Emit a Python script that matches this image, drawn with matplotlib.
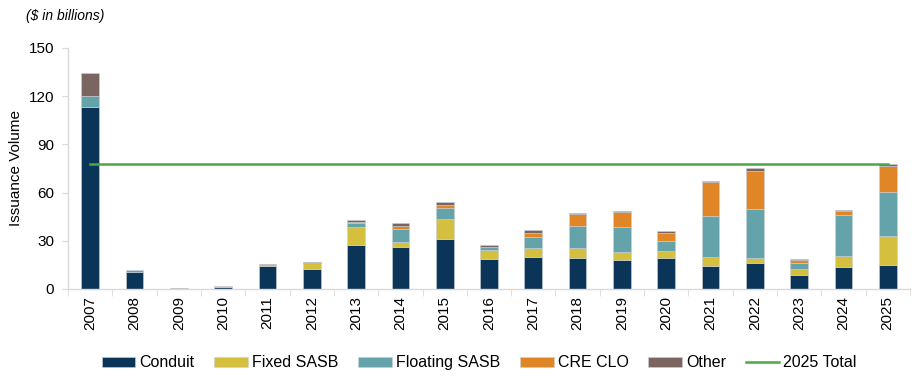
import matplotlib
matplotlib.use("Agg")
import matplotlib.pyplot as plt
import numpy as np

years = ["2007","2008","2009","2010","2011","2012","2013","2014","2015","2016",
         "2017","2018","2019","2020","2021","2022","2023","2024","2025"]
conduit  = [113.5, 10.4, 0.0, 1.0, 14.5, 12.2, 27.4, 26.3, 31.1, 18.9, 20.1, 19.1, 17.8, 19.1, 14.5, 16.2, 8.9, 13.9, 14.9]
fixed    = [0.0, 0.0, 0.0, 0.6, 0.6, 3.8, 11.2, 3.0, 12.7, 5.4, 5.6, 6.4, 5.2, 4.8, 5.6, 3.3, 3.5, 6.6, 18.1]
floating = [6.5, 1.6, 0.0, 0.0, 0.0, 0.0, 2.7, 8.3, 6.8, 1.6, 6.7, 13.9, 15.4, 5.8, 25.5, 30.1, 3.6, 25.4, 27.4]
cre_clo  = [0.0, 0.0, 0.0, 0.0, 0.0, 0.0, 0.6, 1.6, 1.5, 0.4, 2.7, 7.1, 9.5, 5.2, 20.8, 24.1, 2.3, 2.9, 16.4]
other    = [14.5, 0.0, 0.8, 0.4, 0.5, 0.8, 1.3, 2.1, 1.8, 1.3, 1.4, 0.6, 0.9, 1.2, 0.6, 1.6, 0.6, 0.4, 1.0]
total_2025 = 77.8

series = [("Conduit", conduit, "#0B3558"),
          ("Fixed SASB", fixed, "#D4BF3E"),
          ("Floating SASB", floating, "#65A3AB"),
          ("CRE CLO", cre_clo, "#E08626"),
          ("Other", other, "#7A6560")]

plt.rcParams['font.family'] = ['Liberation Sans', 'DejaVu Sans']

fig = plt.figure(figsize=(9.2, 3.82), dpi=100)
ax = fig.add_axes([0.074, 0.2435, 0.915, 0.631])

x = np.arange(len(years))
bottom = np.zeros(len(years))
handles = []
for name, vals, col in series:
    v = np.array(vals)
    b = ax.bar(x, v, width=0.40, bottom=bottom, color=col, edgecolor='#c9d1d9',
               linewidth=0.4, label=name, zorder=2)
    handles.append(b)
    bottom += v

ln, = ax.plot([0, len(years) - 1], [total_2025, total_2025], color="#4EA843",
              linewidth=1.8, label="2025 Total", zorder=3)

ax.set_xlim(-0.5, len(years) - 0.5)
ax.set_ylim(0, 150)
ax.set_yticks([0, 30, 60, 90, 120, 150])
ax.set_xticks(x)
ax.set_xticklabels(years, rotation=90, fontsize=11)
ax.tick_params(axis='y', labelsize=11, length=4, color='#D9D9D9', pad=6)
ax.tick_params(axis='x', length=0, pad=5)
ax.set_xticks(np.arange(-0.5, len(years)), minor=True)
ax.tick_params(axis='x', which='minor', length=5, color='#D9D9D9')
for s in ['top', 'right']:
    ax.spines[s].set_visible(False)
for s in ['left', 'bottom']:
    ax.spines[s].set_color('#D9D9D9')
    ax.spines[s].set_linewidth(1.0)
ax.set_ylabel("Issuance Volume", fontsize=11, labelpad=4)

fig.text(0.028, 0.958, "($ in billions)", fontsize=10, style='italic', va='center', ha='left')

fig.legend(handles=handles + [ln], labels=[s[0] for s in series] + ["2025 Total"],
           loc='center', bbox_to_anchor=(0.521, 0.05), ncol=6, frameon=False,
           fontsize=11.5, handlelength=2.1, handleheight=0.55, handletextpad=0.25,
           columnspacing=1.25)

fig.savefig("out.png", dpi=100)
